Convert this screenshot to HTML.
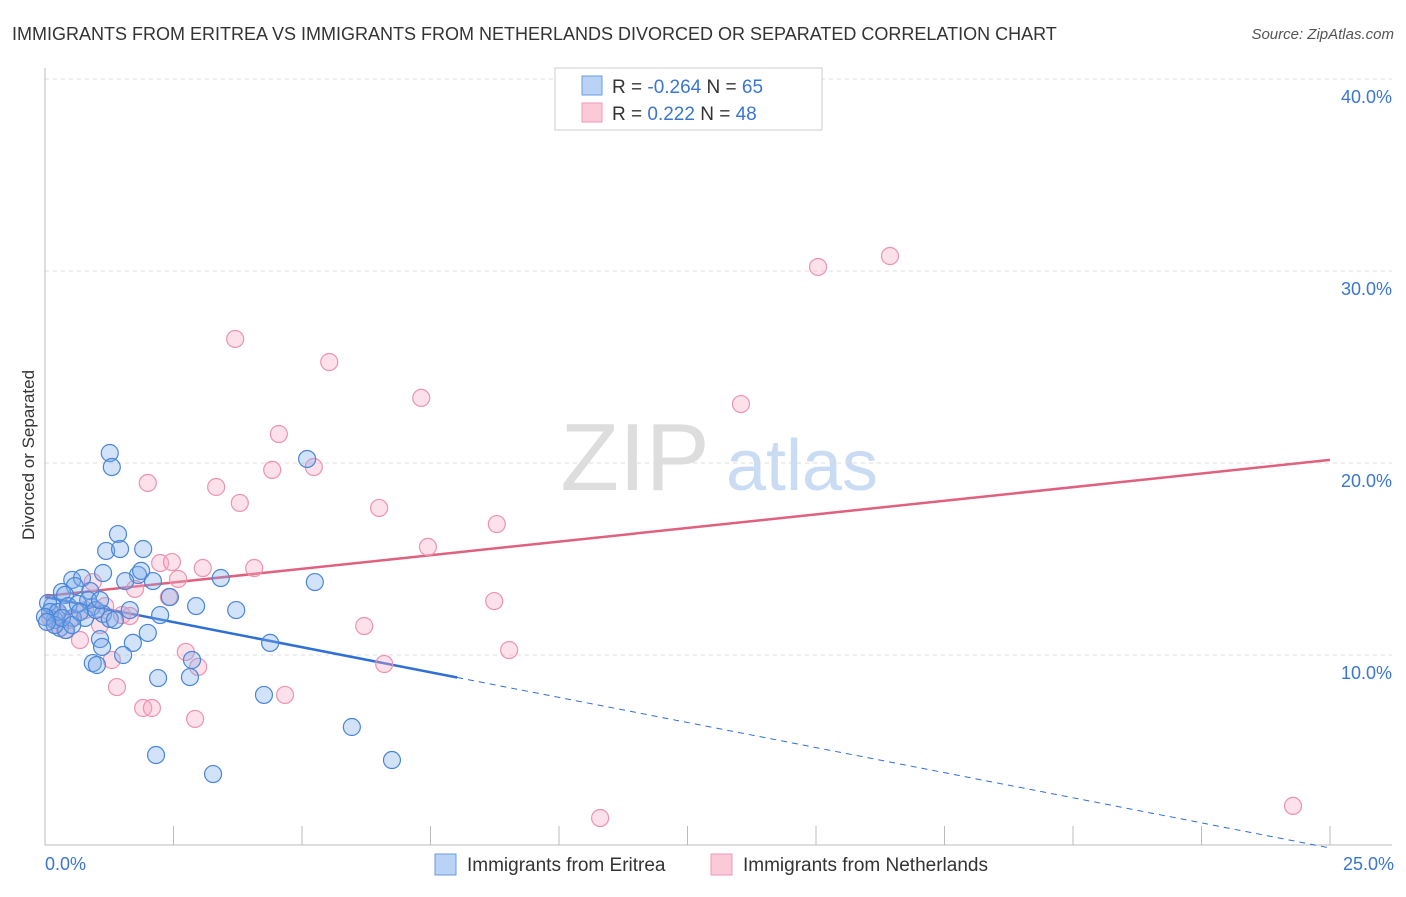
<!DOCTYPE html>
<html><head><meta charset="utf-8"><style>
body{margin:0;background:#fff;font-family:"Liberation Sans",sans-serif;}
svg text{font-family:"Liberation Sans",sans-serif;}
</style></head><body>
<svg width="1406" height="892" id="chart">
<text x="12" y="40" font-size="18" fill="#333">IMMIGRANTS FROM ERITREA VS IMMIGRANTS FROM NETHERLANDS DIVORCED OR SEPARATED CORRELATION CHART</text>
<text x="1394" y="39" font-size="15" fill="#555" text-anchor="end" font-style="italic">Source: ZipAtlas.com</text>
<text x="635" y="490" font-size="96" fill="#ddd" font-family="Liberation Serif,serif" text-anchor="middle">ZIP</text>
<text x="802" y="490" font-size="72" fill="#c9dcf3" text-anchor="middle">atlas</text>
<text transform="translate(34,455) rotate(-90)" font-size="17" fill="#333" text-anchor="middle">Divorced or Separated</text>
<g id="grid"></g><g id="axes"></g><g id="trends"></g><g id="points"></g>
<g>
<rect x="555" y="68" width="267" height="62" fill="#fff" stroke="#ccc"/>
<rect x="582" y="76" width="20" height="19" fill="#b8d3f5" stroke="#6a9be0"/>
<rect x="582" y="103" width="20" height="19" fill="#fbc9d8" stroke="#ef9ab5"/>
<text x="612" y="93" font-size="19" fill="#333">R = <tspan fill="#3a76d0">-0.264</tspan>    N = <tspan fill="#3a76d0">65</tspan></text>
<text x="612" y="120" font-size="19" fill="#333">R =   <tspan fill="#3a76d0">0.222</tspan>    N = <tspan fill="#3a76d0">48</tspan></text>
</g>
<g>
<rect x="435" y="854" width="21" height="21" fill="#b8d3f5" stroke="#6a9be0"/>
<text x="467" y="871" font-size="19" fill="#333">Immigrants from Eritrea</text>
<rect x="711" y="854" width="21" height="21" fill="#fbc9d8" stroke="#ef9ab5"/>
<text x="743" y="871" font-size="19" fill="#333">Immigrants from Netherlands</text>
</g>
</svg>
<script>
const eritreaX=[1.26,1.30,5.10,1.42,1.19,1.46,1.91,1.13,1.81,1.87,2.10,1.56,3.42,5.25,0.53,0.72,0.88,0.58,0.33,0.14,0.39,2.43,2.94,3.72,2.24,0.91,1.13,0.78,1.26,0.54,0.19,0.29,0.41,2.00,1.71,1.07,1.11,4.38,1.52,0.93,1.01,2.20,2.82,2.86,4.26,5.97,2.16,3.27,6.75,0.06,0.10,0.25,0.00,0.45,0.64,0.84,0.19,0.33,0.53,0.68,0.04,0.99,1.36,1.65,1.07];
const eritreaY=[20.52,19.79,20.21,16.30,15.42,15.52,15.52,14.27,14.17,14.38,13.85,13.85,14.01,13.80,13.91,14.01,13.33,13.59,13.28,12.55,13.13,13.02,12.55,12.34,12.08,12.50,12.14,11.93,11.88,11.93,11.82,11.41,11.30,11.15,10.63,10.83,10.42,10.63,10.00,9.58,9.48,8.80,8.85,9.74,7.92,6.25,4.79,3.80,4.53,12.71,12.24,12.24,11.98,12.55,12.66,12.86,11.56,11.93,11.56,12.24,11.72,12.34,11.82,12.34,12.86];
const nethX=[16.44,15.04,3.70,5.53,7.32,13.54,4.55,5.23,4.42,2.00,3.33,3.79,6.50,8.79,7.45,2.24,2.47,3.07,4.07,2.59,1.75,2.41,0.93,1.17,1.50,1.65,8.74,6.21,9.03,2.74,2.98,6.60,1.30,0.68,1.40,4.67,1.91,2.08,2.92,10.80,24.28,0.29,0.19,0.49,0.78,0.39,1.07,0.10];
const nethY=[30.78,30.21,26.46,25.26,23.39,23.07,21.51,19.79,19.64,18.96,18.75,17.92,17.66,16.82,15.63,14.79,14.84,14.53,14.53,13.96,13.44,13.02,13.80,12.55,12.08,12.03,12.81,11.51,10.26,10.16,9.38,9.53,9.74,10.78,8.33,7.92,7.24,7.24,6.67,1.51,2.14,12.08,11.56,11.82,12.34,11.30,11.56,11.93];
const eritreaTrend=[13.02,-0.05]; // y at x=0 and x=25
const eritreaSolidEnd=8.02;
const nethTrend=[13.07,20.16];
const yTicks=[10,20,30,40];
const yTickLabels=["10.0%","20.0%","30.0%","40.0%"];
const xTicks=[0,2.5,5,7.5,10,12.5,15,17.5,20,22.5,25];
const xTickLabels=["0.0%","25.0%"];

const X0=45,X1=1330,Y0=847,PPY=19.2;
const sx=v=>X0+(v/25)*(X1-X0);
const sy=v=>Y0-v*PPY;
const NS="http://www.w3.org/2000/svg";
function mk(tag,attrs,parent){const e=document.createElementNS(NS,tag);for(const k in attrs)e.setAttribute(k,attrs[k]);parent.appendChild(e);return e;}
const grid=document.getElementById('grid'),axes=document.getElementById('axes'),trends=document.getElementById('trends'),pts=document.getElementById('points');
yTicks.forEach((t,i)=>{
  const l=mk('line',{x1:X0,x2:1392,y1:sy(t),y2:sy(t),stroke:'#ddd','stroke-dasharray':'4,4'},grid);
  
  
  const tx=mk('text',{x:1392,y:sy(t)+24,'font-size':18,fill:'#3a76d0','text-anchor':'end'},grid);
  tx.textContent=yTickLabels[i];
  
  
});
const ax=mk('line',{x1:X0,x2:1392,y1:845,y2:845,stroke:'#bbb'},axes);


const ay=mk('line',{x1:X0,x2:X0,y1:68,y2:845,stroke:'#bbb'},axes);


xTicks.forEach(t=>{
  const l=mk('line',{x1:sx(t),x2:sx(t),y1:826,y2:845,stroke:'#bbb'},axes);
  
  
});
[[0,'start'],[25,'end']].forEach((p,i)=>{
  const tx=mk('text',{x:i?1394:45,y:870,'font-size':18,fill:'#3a76d0','text-anchor':p[1]},axes);
  tx.textContent=xTickLabels[i];
  
  
});
const ey=x=>eritreaTrend[0]+(eritreaTrend[1]-eritreaTrend[0])*x/25;
const t1=mk('line',{x1:sx(0),y1:sy(ey(0)),x2:sx(eritreaSolidEnd),y2:sy(ey(eritreaSolidEnd)),stroke:'#2f6fd6','stroke-width':2.5},trends);


const t2=mk('line',{x1:sx(eritreaSolidEnd),y1:sy(ey(eritreaSolidEnd)),x2:sx(25),y2:sy(ey(25)),stroke:'#2f6fd6','stroke-width':1,'stroke-dasharray':'6,5'},trends);


const t3=mk('line',{x1:sx(0),y1:sy(nethTrend[0]),x2:sx(25),y2:sy(nethTrend[1]),stroke:'#e0607f','stroke-width':2.5},trends);


nethX.forEach((x,i)=>{
  const c=mk('circle',{cx:sx(x),cy:sy(nethY[i]),r:8.5,fill:'rgba(246,170,195,0.35)',stroke:'#ec93b0','stroke-width':1.2},pts);
  
  
});
eritreaX.forEach((x,i)=>{
  const c=mk('circle',{cx:sx(x),cy:sy(eritreaY[i]),r:8.5,fill:'rgba(125,172,235,0.35)',stroke:'#4a86d8','stroke-width':1.2},pts);
  
  
});
</script>
</body></html>
